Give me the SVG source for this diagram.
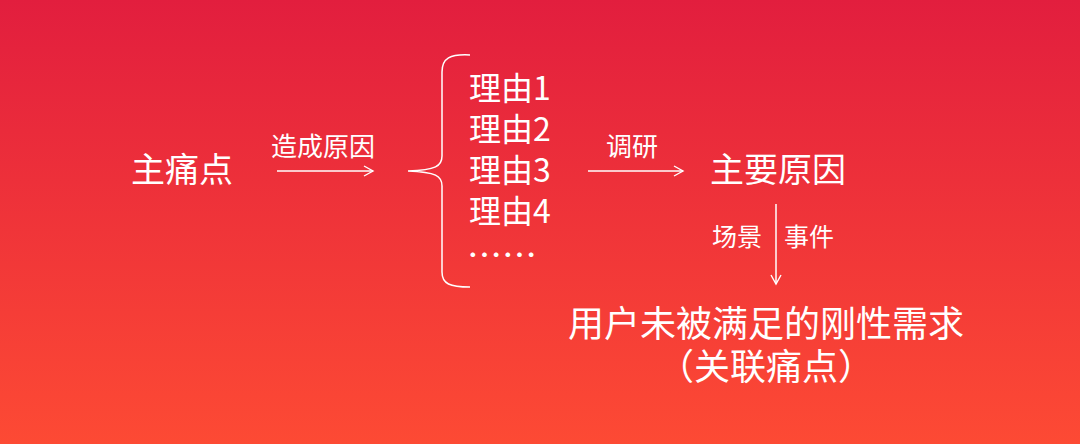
<svg xmlns="http://www.w3.org/2000/svg" width="1080" height="444" viewBox="0 0 1080 444">
<defs>
<linearGradient id="bg" x1="0" y1="0" x2="0" y2="1">
<stop offset="0" stop-color="#E21E3E"/>
<stop offset="1" stop-color="#FD4A34"/>
</linearGradient>
<marker id="ah" markerWidth="12" markerHeight="12" refX="10" refY="6" orient="auto" markerUnits="userSpaceOnUse">
<path d="M1,1 L10,6 L1,11" fill="none" stroke="#FFFFFF" stroke-width="1.4"/>
</marker>
<style>
text{font-family:"Noto Sans CJK SC","Noto Sans",sans-serif;fill:#FFFFFF;}
.big{font-size:34px;}
.mid{font-size:32px;}
.lbl{font-size:25px;}
.need{font-size:36px;}
.line{stroke:#FFFFFF;stroke-width:1.5;fill:none;}
</style>
</defs>
<rect x="0" y="0" width="1080" height="444" fill="url(#bg)"/>
<g id="connectors">
<line class="line" x1="277" y1="171" x2="373" y2="171" marker-end="url(#ah)"/>
<line class="line" x1="588" y1="171" x2="683" y2="171" marker-end="url(#ah)"/>
<line class="line" x1="776" y1="204" x2="776" y2="284" marker-end="url(#ah)"/>
<path class="line" d="M470,55 C450,54 442,58 442,72 L442,156 C442,166 436,170 408,171 C436,172 442,176 442,186 L442,272 C442,284 450,287 470,287"/>
<text id="lbl-cause" class="lbl" x="271" y="156" style="font-size:26px">造成原因</text>
<text id="lbl-research" class="lbl" x="606" y="156" style="font-size:26px">调研</text>
<text id="lbl-scene" class="lbl" x="712" y="246">场景</text>
<text id="lbl-event" class="lbl" x="784" y="246">事件</text>
</g>
<g id="main-pain">
<text class="big" x="131" y="182">主痛点</text>
</g>
<g id="reasons">
<text class="mid" x="469" y="100">理由1</text>
<text class="mid" x="469" y="141">理由2</text>
<text class="mid" x="469" y="182">理由3</text>
<text class="mid" x="469" y="223">理由4</text>
<text class="mid" x="467" y="268" style="font-size:35px">……</text>
</g>
<g id="main-reason">
<text class="big" x="710" y="182">主要原因</text>
</g>
<g id="need">
<text class="need" x="766" y="337" text-anchor="middle">用户未被满足的刚性需求</text>
<text class="need" x="766" y="380" text-anchor="middle">（关联痛点）</text>
</g>
</svg>
